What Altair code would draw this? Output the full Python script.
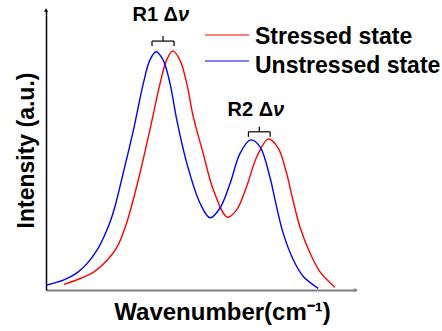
import altair as alt
import pandas as pd

# ---- data (arbitrary units: wavenumber 0-100, intensity 0-100)
unstressed_x = [0.2, 5.8, 10.1, 13.3, 16.5, 18.7, 20.9, 22.3, 24.9, 28.2, 31.4, 33.5,
                35.5, 37.8, 40.0, 42.2, 45.4, 49.7, 52.9, 56.1, 59.4, 62.6, 66.0,
                69.0, 72.3, 73.9, 76.5, 79.8, 83.0, 87.8]
unstressed_y = [1.8, 3.6, 6.2, 9.5, 14.3, 19.0, 25.0, 30.0, 41.7, 57.1, 73.8, 82.1,
                85.1, 82.1, 73.8, 60.7, 45.4, 31.0, 25.8, 29.2, 38.1, 48.8, 53.6,
                51.2, 40.0, 32.1, 20.3, 10.7, 4.8, 0.6]
stressed_x = [5.8, 11.2, 15.5, 19.8, 23.0, 25.7, 27.6, 30.3, 33.5, 36.8, 38.9, 40.9,
              43.2, 45.4, 47.5, 50.7, 54.0, 58.5, 61.5, 64.7, 68.0, 71.7, 74.9,
              77.6, 79.3, 81.9, 85.2, 88.4, 93.2]
stressed_y = [2.0, 4.2, 6.5, 10.7, 15.5, 22.9, 30.0, 41.7, 57.1, 73.8, 82.1, 85.4,
              82.1, 73.8, 61.9, 48.8, 35.7, 26.0, 28.6, 36.9, 47.6, 53.9, 50.7,
              41.7, 33.8, 22.6, 13.1, 6.5, 1.0]

series_names = ["Stressed state", "Unstressed state"]
series_colors = ["#ff0000", "#0000ff"]

# peak-shift annotations
peak_labels = ["R1", "R2"]
bracket_left = [34.2, 65.3]
bracket_right = [41.3, 72.3]
bracket_y = [88.9, 56.5]
label_x = [37.4, 68.1]
label_y = [96.1, 62.1]

FONT = "Liberation Sans"

df = pd.concat([
    pd.DataFrame({"x": stressed_x, "y": stressed_y, "s": series_names[0]}),
    pd.DataFrame({"x": unstressed_x, "y": unstressed_y, "s": series_names[1]}),
])

xs = alt.Scale(domain=[0, 100], nice=False, zero=False)
ys = alt.Scale(domain=[0, 100], nice=False, zero=False)

lines = alt.Chart(df).mark_line(strokeWidth=1.4, interpolate="catmull-rom").encode(
    x=alt.X("x:Q", scale=xs, axis=alt.Axis(
        title="Wavenumber(cm⁻¹)", labels=False, ticks=False, grid=False,
        domainColor="#7f7f7f", domainWidth=2,
        titleFont=FONT, titleFontSize=24, titleFontWeight="bold", titleColor="black",
        titleX=176, titleY=29, titleBaseline="alphabetic", titleAlign="center")),
    y=alt.Y("y:Q", scale=ys, axis=alt.Axis(
        title="Intensity (a.u.)", labels=False, ticks=False, grid=False,
        domainColor="black", domainWidth=1.5,
        titleFont=FONT, titleFontSize=23, titleFontWeight="bold", titleColor="black",
        titleX=-13, titleY=140, titleAngle=-90, titleBaseline="alphabetic",
        titleAlign="center")),
    color=alt.Color("s:N", scale=alt.Scale(domain=series_names, range=series_colors),
                    legend=None),
    detail="s:N",
)

# axis arrowheads
arrows = pd.DataFrame({"x": [0, 100], "y": [100, 0], "shape": ["triangle-up", "triangle-right"],
                       "c": ["black", "#7f7f7f"]})
arrow_marks = alt.Chart(arrows).mark_point(filled=True, size=16, opacity=1).encode(
    x=alt.X("x:Q", scale=xs), y=alt.Y("y:Q", scale=ys),
    shape=alt.Shape("shape:N", scale=None), color=alt.Color("c:N", scale=None))

# brackets for the peak shifts
br = pd.DataFrame({"label": peak_labels, "x1": bracket_left, "x2": bracket_right,
                   "yb": bracket_y, "lx": label_x, "ly": label_y})
br["xc"] = (br["x1"] + br["x2"]) / 2
br["yd"] = br["yb"] - 1.8
br["yu"] = br["yb"] + 1.8

rule = dict(color="black", strokeWidth=1.2)
hline = alt.Chart(br).mark_rule(**rule).encode(
    x=alt.X("x1:Q", scale=xs), x2="x2:Q", y=alt.Y("yb:Q", scale=ys))
lt = alt.Chart(br).mark_rule(**rule).encode(
    x=alt.X("x1:Q", scale=xs), y=alt.Y("yb:Q", scale=ys), y2="yd:Q")
rt = alt.Chart(br).mark_rule(**rule).encode(
    x=alt.X("x2:Q", scale=xs), y=alt.Y("yb:Q", scale=ys), y2="yd:Q")
ct = alt.Chart(br).mark_rule(**rule).encode(
    x=alt.X("xc:Q", scale=xs), y=alt.Y("yb:Q", scale=ys), y2="yu:Q")

br["t1"] = br["label"] + " Δ"
lab1 = alt.Chart(br).mark_text(font=FONT, fontSize=20, fontWeight="bold", color="black",
                               align="right", baseline="alphabetic", dx=16).encode(
    x=alt.X("lx:Q", scale=xs), y=alt.Y("ly:Q", scale=ys), text="t1:N")
lab2 = alt.Chart(br).mark_text(font=FONT, fontSize=20, fontWeight="bold", fontStyle="italic",
                               color="black", align="left", baseline="alphabetic", dx=16).encode(
    x=alt.X("lx:Q", scale=xs), y=alt.Y("ly:Q", scale=ys), text=alt.value("ν"))

# legend (pixel positions inside the plot area)
leg = pd.DataFrame({"s": series_names, "c": series_colors, "ly": [25, 51], "ty": [34, 63]})
leg_lines = alt.Chart(leg).mark_rule(strokeWidth=1.2).encode(
    x=alt.value(159), x2=alt.value(203), y=alt.Y("ly:Q", scale=None),
    color=alt.Color("c:N", scale=None))
leg_text = alt.Chart(leg).mark_text(font=FONT, fontSize=23, fontWeight="bold", color="black",
                                    align="left", baseline="alphabetic").encode(
    x=alt.value(209), y=alt.Y("ty:Q", scale=None), text="s:N")

chart = alt.layer(lines, arrow_marks, hline, lt, rt, ct, lab1, lab2, leg_lines, leg_text).properties(
    width=310, height=280,
    autosize=alt.AutoSizeParams(type="none"),
    padding={"left": 46, "top": 10, "right": 86, "bottom": 41},
).configure_view(stroke=None)

chart.save("out.html", embed_options={"renderer": "svg", "actions": False})
